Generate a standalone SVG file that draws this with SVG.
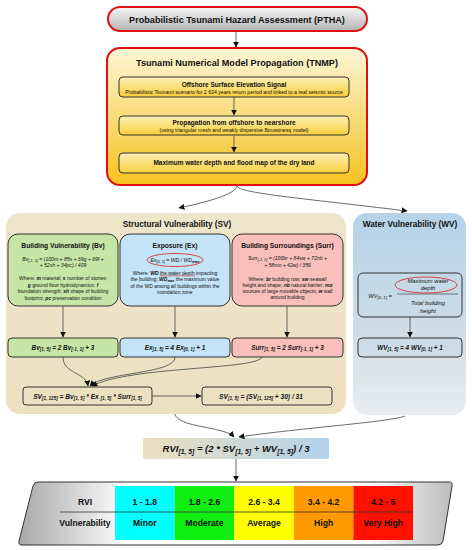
<svg xmlns="http://www.w3.org/2000/svg" width="472" height="550" viewBox="0 0 472 550">
<defs>
<linearGradient id="gGray" x1="0" y1="0" x2="0" y2="1"><stop offset="0" stop-color="#f6f6f6"/><stop offset="1" stop-color="#b4b4b4"/></linearGradient>
<linearGradient id="gYel" x1="0" y1="0" x2="0" y2="1"><stop offset="0" stop-color="#fdf5d6"/><stop offset="1" stop-color="#f7c21e"/></linearGradient>
<linearGradient id="gYel2" x1="0" y1="0" x2="0" y2="1"><stop offset="0" stop-color="#fdf0b8"/><stop offset="1" stop-color="#f8cf3a"/></linearGradient>
<linearGradient id="gSV" x1="0" y1="0" x2="0" y2="1"><stop offset="0" stop-color="#efe5cb"/><stop offset="1" stop-color="#ece0c0"/></linearGradient>
<linearGradient id="gWV" x1="0" y1="0" x2="0" y2="1"><stop offset="0" stop-color="#b6d2e7"/><stop offset="0.6" stop-color="#cfdde8"/><stop offset="1" stop-color="#e9edf1"/></linearGradient>
<linearGradient id="gRVI" x1="0" y1="0" x2="1" y2="0"><stop offset="0" stop-color="#ebdfbf"/><stop offset="1" stop-color="#b3d2ea"/></linearGradient>
<linearGradient id="gTab" x1="0" y1="0" x2="1" y2="0"><stop offset="0" stop-color="#a8a8a8"/><stop offset="0.25" stop-color="#ffffff"/><stop offset="0.8" stop-color="#ffffff"/><stop offset="1" stop-color="#bdbdbd"/></linearGradient>
<marker id="arr" viewBox="0 0 10 10" refX="9" refY="5" markerWidth="6" markerHeight="6" orient="auto" markerUnits="userSpaceOnUse"><path d="M0 0 L10 5 L0 10 Z" fill="#111"/></marker>
</defs>
<style>
text{font-family:"Liberation Sans",Arial,sans-serif;fill:#111;text-anchor:middle}
.b{font-weight:bold}
.i{font-style:italic}
.bi{font-weight:bold;font-style:italic}
.box{stroke:#333;stroke-width:1}
.con{fill:none;stroke:#444;stroke-width:0.8;marker-end:url(#arr)}
.t9{font-size:9.1px}
.t8{font-size:8.2px}
.t6{font-size:6.5px}
.t5{font-size:6.7px}
.t4{font-size:5.2px}
.f{font-size:5.1px}
.w{font-size:5px}
.r2{font-size:6.4px}
.r3{font-size:6.6px}
.wf{font-size:5.8px}
.tab{font-size:8.6px;font-weight:bold}
</style>

<g id="wv-panel"><rect x="353" y="213" width="113" height="202" rx="14" fill="url(#gWV)"/>
<text class="b t8" x="410" y="227">Water Vulnerability (WV)</text></g>
<g id="sv-panel"><rect x="6" y="213" width="340" height="201" rx="14" fill="url(#gSV)"/>
<text class="b t8" x="177" y="227">Structural Vulnerability (SV)</text></g>

<g id="ptha"><rect x="108" y="7" width="259" height="24" rx="12" fill="url(#gGray)" stroke="#e01010" stroke-width="2"/>
<text class="b t9" x="237" y="22.5">Probabilistic Tsunami Hazard Assessment (PTHA)</text></g>

<g id="tnmp"><rect x="107" y="48" width="260" height="137" rx="13" fill="url(#gYel)" stroke="#e01010" stroke-width="2"/>
<text class="b t9" x="237" y="65.5">Tsunami Numerical Model Propagation (TNMP)</text></g>
<g id="offshore"><rect class="box" x="119" y="77" width="230" height="20" rx="4" fill="url(#gYel2)"/>
<text class="b t6" x="234" y="86.5">Offshore Surface Elevation Signal</text>
<text class="t4" x="234" y="93.8">Probabilistic Tsunami scenario for 2 634 years return period and linked to a real seismic source</text></g>
<g id="propagation"><rect class="box" x="119" y="116" width="230" height="19" rx="4" fill="url(#gYel2)"/>
<text class="b t6" x="234" y="124.5">Propagation from offshore to nearshore</text>
<text class="t4" x="234" y="131.8">(using triangular mesh and weakly dispersive Boussinesq model)</text></g>
<g id="maxdepth"><rect class="box" x="119" y="153" width="230" height="20" rx="4" fill="url(#gYel2)"/>
<text class="b t6" x="234" y="165.3">Maximum water depth and flood map of the dry land</text></g>

<g id="bv"><rect class="box" x="8" y="234" width="110" height="72" rx="10" fill="#c6e6a8"/>
<text class="b t5" x="63" y="247.5">Building Vulnerability (Bv)</text>
<text class="i f" x="63" y="260.5">Bv<tspan font-size="3.8" dy="1">[-1, 1]</tspan><tspan dy="-1"> = (100m + 85s + 69g + 69f +</tspan></text>
<text class="i f" x="63" y="267">+ 52sh + 34pc) / 409</text>
<text class="w" x="63" y="280">Where: <tspan class="bi">m</tspan> material; <tspan class="bi">s</tspan> number of stories;</text>
<text class="w" x="63" y="286.5"><tspan class="bi">g</tspan> ground floor hydrodynamics; <tspan class="bi">f</tspan></text>
<text class="w" x="63" y="293">foundation strength; <tspan class="bi">sh</tspan> shape of building</text>
<text class="w" x="63" y="299.5">footprint; <tspan class="bi">pc</tspan> preservation condition</text></g>

<g id="ex"><rect class="box" x="120" y="234" width="110" height="72" rx="10" fill="#c3e3f6"/>
<text class="b t5" x="175" y="247.5">Exposure (Ex)</text>
<ellipse cx="175" cy="260" rx="28" ry="6.5" fill="none" stroke="#d42020" stroke-width="0.8"/>
<text class="i f" x="175" y="262">Ex<tspan font-size="3.8" dy="1">[0, 1]</tspan><tspan dy="-1"> = WD / WD</tspan><tspan font-size="3.8" dy="1" class="b">max</tspan></text>
<text class="w" x="175" y="274.5">Where: <tspan class="b">WD</tspan> the water depth impacting</text>
<line x1="160" y1="275.8" x2="195" y2="275.8" stroke="#d42020" stroke-width="0.6"/>
<text class="w" x="175" y="281">the building; <tspan class="bi">WD</tspan><tspan class="bi" font-size="3.6" dy="1">max</tspan><tspan dy="-1"> the maximum value</tspan></text>
<text class="w" x="175" y="287.5">of the WD among all buildings within the</text>
<text class="w" x="175" y="294">inondation zone</text></g>

<g id="surr"><rect class="box" x="232" y="234" width="111" height="72" rx="10" fill="#f8bfbb"/>
<text class="b t5" x="287.5" y="247.5">Building Surroundings (Surr)</text>
<text class="i f" x="287.5" y="260">Surr<tspan font-size="3.8" dy="1">[-1, 1]</tspan><tspan dy="-1"> = (100br + 84sw + 72nb +</tspan></text>
<text class="i f" x="287.5" y="266.5">+ 58mo + 42w) / 356</text>
<text class="w" x="287.5" y="280.5">Where: <tspan class="bi">br</tspan> building row; <tspan class="bi">sw</tspan> seawall</text>
<text class="w" x="287.5" y="286.5">height and shape; <tspan class="bi">nb</tspan> natural barrier; <tspan class="bi">mo</tspan></text>
<text class="w" x="287.5" y="292.5">sources of large movable objects; <tspan class="bi">w</tspan> wall</text>
<text class="w" x="287.5" y="298.5">around building</text></g>

<g id="bv2"><rect class="box" x="8" y="338" width="110" height="19" rx="4" fill="#c6e6a8"/>
<text class="bi r2" x="63" y="350">Bv<tspan font-size="4.6" dy="1.2">[1, 5]</tspan><tspan dy="-1.2"> = 2 Bv</tspan><tspan font-size="4.6" dy="1.2">[-1, 1]</tspan><tspan dy="-1.2"> + 3</tspan></text></g>
<g id="ex2"><rect class="box" x="120" y="338" width="110" height="19" rx="4" fill="#c3e3f6"/>
<text class="bi r2" x="175" y="350">Ex<tspan font-size="4.6" dy="1.2">[1, 5]</tspan><tspan dy="-1.2"> = 4 Ex</tspan><tspan font-size="4.6" dy="1.2">[0, 1]</tspan><tspan dy="-1.2"> + 1</tspan></text></g>
<g id="surr2"><rect class="box" x="232" y="338" width="111" height="19" rx="4" fill="#f8bfbb"/>
<text class="bi r2" x="287.5" y="350">Surr<tspan font-size="4.6" dy="1.2">[1, 5]</tspan><tspan dy="-1.2"> = 2 Surr</tspan><tspan font-size="4.6" dy="1.2">[-1, 1]</tspan><tspan dy="-1.2"> + 3</tspan></text></g>

<g id="sv125"><rect class="box" x="23" y="387" width="129" height="18" rx="3" fill="none"/>
<text class="bi r3" x="87.5" y="398.5">SV<tspan font-size="4.6" dy="1.2">[1, 125]</tspan><tspan dy="-1.2"> = Bv</tspan><tspan font-size="4.6" dy="1.2">[1, 5]</tspan><tspan dy="-1.2"> * Ex </tspan><tspan font-size="4.6" dy="1.2">[1, 5]</tspan><tspan dy="-1.2"> * Surr</tspan><tspan font-size="4.6" dy="1.2">[1, 5]</tspan></text></g>
<g id="sv"><rect class="box" x="202" y="387" width="130" height="18" rx="3" fill="none"/>
<text class="bi r3" x="261" y="398.5">SV<tspan font-size="4.6" dy="1.2">[1, 5]</tspan><tspan dy="-1.2"> = (SV</tspan><tspan font-size="4.6" dy="1.2">[1, 125]</tspan><tspan dy="-1.2"> + 30) / 31</tspan></text></g>

<g id="wv"><rect class="box" x="358" y="273" width="104" height="44" rx="5" fill="#c6dae8" fill-opacity="0.5"/>
<text class="i wf" x="380" y="297.5">WV<tspan font-size="4.2" dy="1.2">[0, 1]</tspan><tspan dy="-1.2"> =</tspan></text>
<line x1="397" y1="294" x2="458" y2="294" stroke="#333" stroke-width="0.6"/>
<ellipse cx="426" cy="285" rx="31" ry="8" fill="none" stroke="#d42020" stroke-width="0.8"/>
<text class="i wf" x="428" y="282.5">Maximum water</text>
<text class="i wf" x="428" y="289.5">depth</text>
<text class="i wf" x="428" y="305">Total building</text>
<text class="i wf" x="428" y="312.5">height</text></g>
<g id="wv2"><rect class="box" x="358" y="338" width="104" height="19" rx="4" fill="#c6dae8" fill-opacity="0.5"/>
<text class="bi r2" x="410" y="350">WV<tspan font-size="4.6" dy="1.2">[1, 5]</tspan><tspan dy="-1.2"> = 4 WV</tspan><tspan font-size="4.6" dy="1.2">[0, 1]</tspan><tspan dy="-1.2"> + 1</tspan></text></g>

<g id="rvi"><rect x="143" y="438" width="186" height="21" rx="2" fill="url(#gRVI)"/>
<text class="bi" font-size="9.5" x="236" y="452">RVI<tspan font-size="6.8" dy="1.5">[1, 5]</tspan><tspan dy="-1.5"> = (2 * SV</tspan><tspan font-size="6.8" dy="1.5">[1, 5]</tspan><tspan dy="-1.5"> + WV</tspan><tspan font-size="6.8" dy="1.5">[1, 5]</tspan><tspan dy="-1.5">) / 3</tspan></text></g>

<g id="table">
<path d="M38 482 L449 482 Q453 482 452 486 L443 541 Q442 545 438 545 L22 545 Q18 545 19 541 L33 486 Q34 482 38 482 Z" fill="url(#gTab)" stroke="#333" stroke-width="1"/>
<rect x="115" y="486" width="59.6" height="54" fill="#00ffff"/>
<rect x="174.6" y="486" width="59.6" height="54" fill="#11ee11"/>
<rect x="234.2" y="486" width="59.6" height="54" fill="#ffff00"/>
<rect x="293.8" y="486" width="59.6" height="54" fill="#ff9900"/>
<rect x="353.4" y="486" width="59.6" height="54" fill="#ff1100"/>
<line x1="60" y1="512" x2="413" y2="512" stroke="#333" stroke-width="0.8"/>
<text class="tab" x="85" y="504.5">RVI</text>
<text class="tab" x="144.8" y="504.5">1 - 1.8</text>
<text class="tab" x="204.4" y="504.5">1.8 - 2.6</text>
<text class="tab" x="264" y="504.5">2.6 - 3.4</text>
<text class="tab" x="323.6" y="504.5">3.4 - 4.2</text>
<text class="tab" x="383.2" y="504.5">4.2 - 5</text>
<text class="tab" x="85" y="526">Vulnerability</text>
<text class="tab" x="144.8" y="526">Minor</text>
<text class="tab" x="204.4" y="526">Moderate</text>
<text class="tab" x="264" y="526">Average</text>
<text class="tab" x="323.6" y="526">High</text>
<text class="tab" x="383.2" y="526">Very High</text>
</g>

<g id="connectors">
<path class="con" d="M236 31 L236 47"/>
<path class="con" d="M234 97 L234 115"/>
<path class="con" d="M234 135 L234 152"/>
<path class="con" d="M237 186 Q236 196 179 208"/>
<path class="con" d="M237 186 C238 193 300 198 407 211"/>
<path class="con" d="M63 306 L63 337"/>
<path class="con" d="M175 306 L175 337"/>
<path class="con" d="M287 306 L287 337"/>
<path class="con" d="M410 317 L410 337"/>
<path class="con" d="M63 357 C63 374 86 372 88 386"/>
<path class="con" d="M175 357 C176 374 104 372 90 386"/>
<path class="con" d="M262 357 C258 370 130 366 92 386"/>
<path class="con" d="M152 396 L201 396"/>
<path class="con" d="M175 414 C178 428 224 426 234 437"/>
<path class="con" d="M405 416 C390 422 300 428 239 437"/>
<path class="con" d="M236 459 L236 481"/>
</g>
</svg>
